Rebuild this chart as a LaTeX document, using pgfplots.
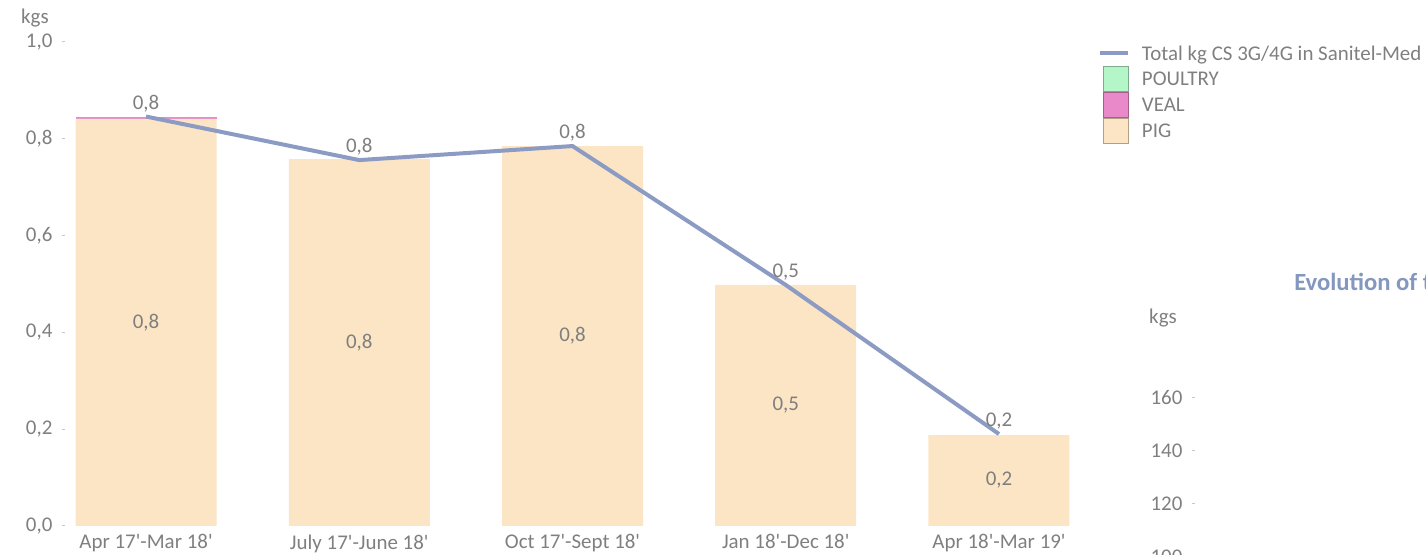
\documentclass[border=0pt]{standalone}
\usepackage{fontspec}
\setmainfont{Carlito}[Ligatures=TeXOff]
\usepackage{pgfplots}
\pgfplotsset{compat=1.18}
\definecolor{txt}{HTML}{7F7F7F}
\definecolor{totline}{HTML}{8C9BC4}
\definecolor{pig}{HTML}{FBE5C4}
\definecolor{veal}{HTML}{E989C9}
\definecolor{poultry}{HTML}{B4F6C8}
\definecolor{ttl}{HTML}{8497BF}
\definecolor{tk}{HTML}{C8C8C8}
\newcommand\cf{\fontsize{15.7pt}{18pt}\selectfont}
\pgfplotsset{
  mainbox/.style={at={(48.75pt,21.75pt)}, anchor=south west,
    scale only axis, width=761.25pt, height=363pt,
    xmin=-0.38, xmax=4.38, ymin=0, ymax=1},
  legbox/.style={legend image code/.code={\draw[fill=#1, draw=#1!70!black, line width=0.6pt] (2.25pt,-4.4pt) rectangle (21pt,14.35pt);}},
}

\begin{document}
\begin{tikzpicture}
\useasboundingbox (0,0) rectangle (1069.5pt,416.25pt);
\clip (0,0) rectangle (1069.5pt,416.25pt);

% stacked bars with the axis ticks
\begin{axis}[
  mainbox,
  ybar stacked, bar width=105.75pt,
  axis line style={draw=none},
  xtick={0,1,2,3,4},
  xticklabels={Apr 17'-Mar 18', July 17'-June 18', Oct 17'-Sept 18', Jan 18'-Dec 18', Apr 18'-Mar 19'},
  x tick style={draw=none},
  ytick={0,0.2,0.4,0.6,0.8,1}, ytick pos=left,
  y tick style={tk, line width=0.75pt},
  major tick length=2.25pt,
  tick align=outside,
  tick label style={font=\cf, text=txt},
  yticklabel style={anchor=east, inner sep=0pt, xshift=-7pt},
  xticklabel style={anchor=north, inner sep=0pt, yshift=-4pt},
  /pgf/number format/.cd, use comma, fixed, fixed zerofill, precision=1, assume math mode=true,
]
\addplot[fill=pig, draw=none] coordinates {(0,0.841) (1,0.758) (2,0.785) (3,0.498) (4,0.188)}; % PIG
\addplot[fill=veal, draw=none] coordinates {(0,0.005) (1,0) (2,0) (3,0) (4,0)};                % VEAL
\addplot[fill=poultry, draw=none] coordinates {(0,0) (1,0) (2,0) (3,0) (4,0)};                 % POULTRY
\end{axis}

% total line, data labels and legend on top
\begin{axis}[
  mainbox, hide axis,
  /pgf/number format/.cd, use comma, fixed, fixed zerofill, precision=1, assume math mode=true,
  /pgfplots/.cd,
  legend cell align=left,
  legend style={at={(1.0177,1.002)}, anchor=north west, draw=none, fill=none,
    inner sep=0pt, outer sep=0pt, row sep=0pt, column sep=9pt, font=\cf, text=txt,
    nodes={inner sep=0pt, text height=14.35pt, text depth=4.4pt, anchor=base west}},
]
\addlegendimage{legend image code/.code={\draw[totline, line width=3pt] (0pt,5pt) -- (21pt,5pt);}}
\addlegendentry{Total kg CS 3G/4G in Sanitel-Med}
\addlegendimage{legbox=poultry}
\addlegendentry{POULTRY}
\addlegendimage{legbox=veal}
\addlegendentry{VEAL}
\addlegendimage{legbox=pig}
\addlegendentry{PIG}
\addplot[forget plot, sharp plot, totline, line width=3pt, mark=none,
  nodes near coords,
  nodes near coords style={font=\cf, text=txt, anchor=south, inner sep=0pt, yshift=2pt}]
  coordinates {(0,0.846) (1,0.756) (2,0.785) (3,0.498) (4,0.19)};
% labels inside the PIG bars
\addplot[forget plot, only marks, mark=none,
  point meta=explicit, nodes near coords,
  nodes near coords style={font=\cf, text=txt, anchor=center, inner sep=0pt}]
  coordinates {(0,0.421) [0.841] (1,0.379) [0.758] (2,0.3925) [0.785] (3,0.249) [0.498] (4,0.094) [0.188]};
\end{axis}

\node[font=\cf, text=txt] at (26.25pt,402.75pt) {kgs};

% second chart, cut off at the right edge
\begin{axis}[
  at={(896.25pt,-1.5pt)}, anchor=south west,
  scale only axis, width=300pt, height=159pt,
  xmin=0, xmax=1, ymin=100, ymax=180,
  axis line style={draw=none},
  xtick=\empty,
  ytick={100,120,140,160}, ytick pos=left,
  y tick style={tk, line width=0.75pt},
  major tick length=2.25pt, tick align=outside,
  tick label style={font=\cf, text=txt},
  yticklabel style={anchor=east, inner sep=0pt, xshift=-7pt},
  /pgf/number format/assume math mode=true,
]
\end{axis}
\node[font=\cf, text=txt] at (872.25pt,177.75pt) {kgs};
\node[anchor=west, inner sep=0pt, font=\bfseries\fontsize{18.5pt}{21pt}\selectfont, text=ttl]
  at (970.5pt,204.75pt) {Evolution of the total};
\end{tikzpicture}
\end{document}
